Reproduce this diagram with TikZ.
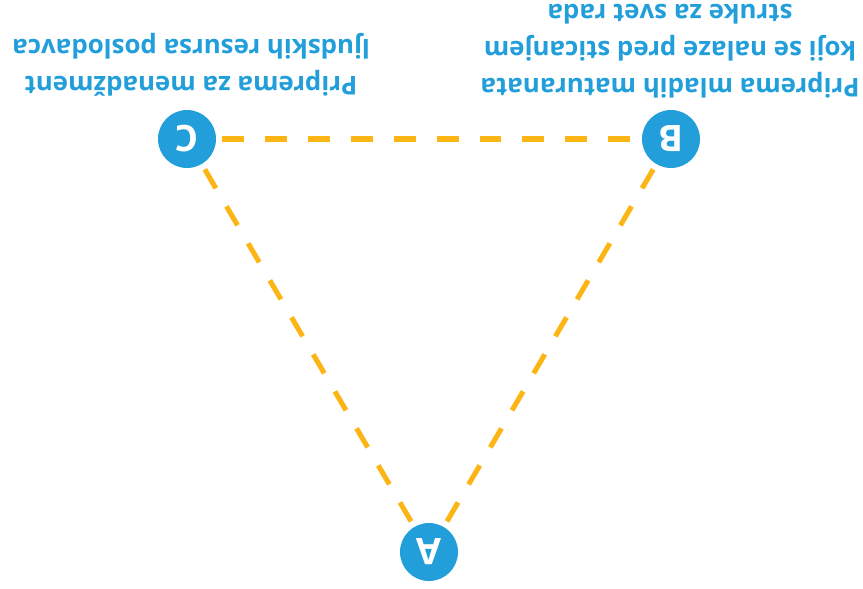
\documentclass[tikz,border=0pt]{standalone}
\usepackage{fontspec}
\setmainfont{Open Sans}
\definecolor{dotblue}{HTML}{229FDA}
\definecolor{linkgold}{HTML}{FDB515}

\begin{document}
\begin{tikzpicture}[x=0.025cm, y=-0.025cm, thick,
	main/.style={circle, fill=dotblue, text=white, minimum size=1.45cm, inner sep=0pt, font=\fontsize{26}{26}\selectfont\bfseries, rotate=180},
	txt/.style={text=dotblue, align=center, font=\fontsize{18.4}{26.3}\selectfont\bfseries, rotate=180},
	link/.style={draw=linkgold, line width=3.6pt, dash pattern=on 15.6pt off 14.9pt, shorten <=4pt, shorten >=4pt}]
		\useasboundingbox (0,0) rectangle (863,588);

		\node[main] (a) at (429,552) {A};
		\node[main] (b) at (671,139) {B};
		\node[main] (c) at (187,139) {C};

		\node[txt] (tb) at (670,51) {Priprema mladih maturanata\\koji se nalaze pred sticanjem\\struke za svet rada};
		\node[txt] (tc) at (191,65) {Priprema za menadžment\\ljudskih resursa poslodavca};

		\draw[link] (c) -- (b);
		\draw[link] (c) -- (a);
		\draw[link] (b) -- (a);
	\end{tikzpicture}
\end{document}
